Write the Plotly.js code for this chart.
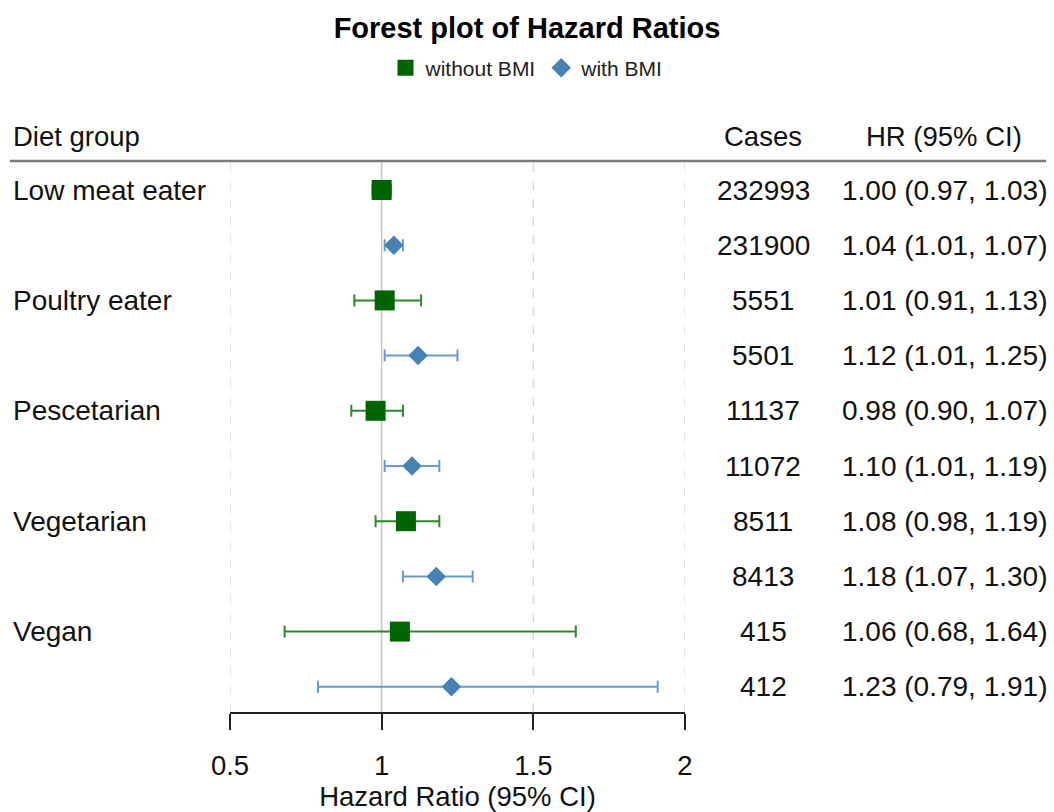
<!DOCTYPE html>
<html>
<head>
<meta charset="utf-8">
<script src="https://cdn.plot.ly/plotly-3.0.1.min.js"></script>
<style>html,body{margin:0;padding:0;background:#fff;}#chart{width:1054px;height:812px;}</style>
</head>
<body>
<div id="chart"></div>
<script>
// ---- data ----
const groups = ["Low meat eater", "Poultry eater", "Pescetarian", "Vegetarian", "Vegan"];
const hrNoBMI = [1.00, 1.01, 0.98, 1.08, 1.06];
const loNoBMI = [0.97, 0.91, 0.90, 0.98, 0.68];
const hiNoBMI = [1.03, 1.13, 1.07, 1.19, 1.64];
const casesNoBMI = [232993, 5551, 11137, 8511, 415];
const hrBMI = [1.04, 1.12, 1.10, 1.18, 1.23];
const loBMI = [1.01, 1.01, 1.01, 1.07, 0.79];
const hiBMI = [1.07, 1.25, 1.19, 1.30, 1.91];
const casesBMI = [231900, 5501, 11072, 8413, 412];
const xTicks = [0.5, 1, 1.5, 2];
const xTickText = ["0.5", "1", "1.5", "2"];
const refLine = 1;

// ---- layout helpers ----
const W = 1054;
const FONT = "Liberation Sans, Arial, sans-serif";
const rowNo = groups.map((g, i) => 2 * i);
const rowB = groups.map((g, i) => 2 * i + 1);
const fmt = v => v.toFixed(2);
const ciText = (h, l, u) => `${fmt(h)} (${fmt(l)}, ${fmt(u)})`;

const traceNo = {
  type: "scatter", mode: "markers", name: "without BMI",
  x: hrNoBMI, y: rowNo,
  marker: {symbol: "square", size: 20, color: "#006400"},
  error_x: {type: "data", symmetric: false,
    array: hrNoBMI.map((h, i) => hiNoBMI[i] - h),
    arrayminus: hrNoBMI.map((h, i) => h - loNoBMI[i]),
    color: "#2a8a2a", thickness: 2, width: 6}
};
const traceB = {
  type: "scatter", mode: "markers", name: "with BMI",
  x: hrBMI, y: rowB,
  marker: {symbol: "diamond", size: 15, color: "#4682B4"},
  error_x: {type: "data", symmetric: false,
    array: hrBMI.map((h, i) => hiBMI[i] - h),
    arrayminus: hrBMI.map((h, i) => h - loBMI[i]),
    color: "#6a9acb", thickness: 2, width: 6}
};

const txt = {family: FONT, size: 28, color: "#111"};
const hdr = {family: FONT, size: 27.5, color: "#111"};
const ann = [];
ann.push({xref: "paper", yref: "paper", x: 11 / W, y: 1.044, xanchor: "left", yanchor: "middle", text: "Diet group", showarrow: false, font: hdr});
ann.push({xref: "paper", yref: "paper", x: 763 / W, y: 1.044, xanchor: "center", yanchor: "middle", text: "Cases", showarrow: false, font: hdr});
ann.push({xref: "paper", yref: "paper", x: 944 / W, y: 1.044, xanchor: "center", yanchor: "middle", text: "HR (95% CI)", showarrow: false, font: hdr});
groups.forEach((g, i) => {
  ann.push({xref: "paper", yref: "y", x: 11 / W, y: rowNo[i], xanchor: "left", yanchor: "middle", text: g, showarrow: false, font: txt});
  ann.push({xref: "paper", yref: "y", x: 763 / W, y: rowNo[i], xanchor: "center", yanchor: "middle", text: String(casesNoBMI[i]), showarrow: false, font: txt});
  ann.push({xref: "paper", yref: "y", x: 763 / W, y: rowB[i], xanchor: "center", yanchor: "middle", text: String(casesBMI[i]), showarrow: false, font: txt});
  ann.push({xref: "paper", yref: "y", x: 944 / W, y: rowNo[i], xanchor: "center", yanchor: "middle", text: ciText(hrNoBMI[i], loNoBMI[i], hiNoBMI[i]), showarrow: false, font: txt});
  ann.push({xref: "paper", yref: "y", x: 944 / W, y: rowB[i], xanchor: "center", yanchor: "middle", text: ciText(hrBMI[i], loBMI[i], hiBMI[i]), showarrow: false, font: txt});
});

const rowPx = 55.2, topPx = 161, bottomPx = 712, firstRowPx = 190;
const yTop = -(firstRowPx - topPx) / rowPx;
const yBottom = (bottomPx - firstRowPx) / rowPx;

const shapes = [
  {type: "line", xref: "paper", yref: "paper", x0: 10 / W, x1: 1046 / W, y0: 1, y1: 1,
    line: {color: "#7a7a7a", width: 2.5}}
];
xTicks.forEach(t => {
  shapes.push({type: "line", xref: "x", yref: "paper", x0: t, x1: t, y0: 0, y1: 1, layer: "below",
    line: t === refLine ? {color: "#c8c8c8", width: 1.6} : {color: "#d6d6d6", width: 1.3, dash: "dash"}});
});

const layout = {
  width: 1054, height: 812,
  paper_bgcolor: "#fff", plot_bgcolor: "rgba(0,0,0,0)",
  margin: {l: 0, r: 0, t: topPx, b: 812 - bottomPx, pad: 0},
  font: {family: FONT, color: "#111"},
  title: {text: "<b>Forest plot of Hazard Ratios</b>", font: {family: FONT, size: 29, color: "#000"},
    x: 0.5, xanchor: "center", yref: "container", y: 1 - 28 / 812, yanchor: "middle"},
  showlegend: true,
  legend: {orientation: "h", x: 0.5, xanchor: "center", yref: "container", y: 1 - 68 / 812, yanchor: "middle",
    font: {family: FONT, size: 21, color: "#222"}, itemclick: false, tracegroupgap: 0},
  xaxis: {
    domain: [230 / W, 685 / W], range: [0.5, 2], autorange: false,
    tickvals: xTicks, ticktext: xTickText,
    showgrid: false,
    zeroline: false, showline: true, linecolor: "#222", linewidth: 2,
    ticks: "outside", ticklen: 16, tickwidth: 2, tickcolor: "#222",
    ticklabelstandoff: 12,
    tickfont: {family: FONT, size: 27.5, color: "#111"},
    title: {text: "Hazard Ratio (95% CI)", font: {family: FONT, size: 27.5, color: "#111"}, standoff: 8}
  },
  yaxis: {range: [yBottom, yTop], autorange: false, showgrid: false, zeroline: false,
    showticklabels: false, showline: false, ticks: ""},
  shapes: shapes,
  annotations: ann
};

Plotly.newPlot("chart", [traceNo, traceB], layout, {displayModeBar: false, staticPlot: true});
</script>
</body>
</html>
